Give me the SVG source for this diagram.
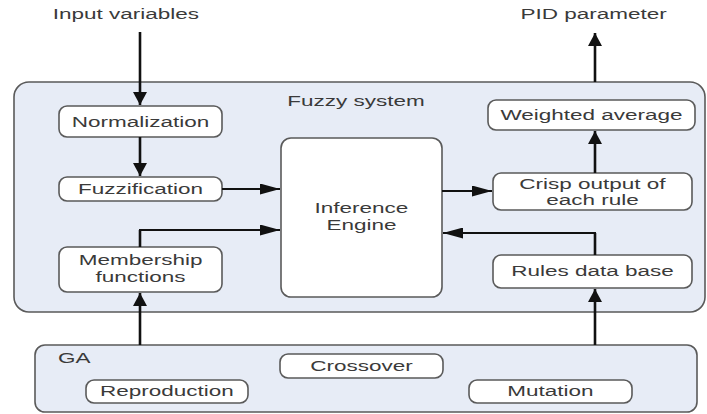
<svg xmlns="http://www.w3.org/2000/svg" width="707" height="414" viewBox="0 0 707 414">
<defs>
<marker id="av" viewBox="0 0 13 14" refX="13" refY="7" markerWidth="13" markerHeight="14" markerUnits="userSpaceOnUse" orient="auto">
<path d="M0,0 L13,7 L0,14 Z" fill="#111"/>
</marker>
<marker id="ahz" viewBox="0 0 20 11" refX="20" refY="5.5" markerWidth="20" markerHeight="11" markerUnits="userSpaceOnUse" orient="auto">
<path d="M0,0 L20,5.5 L0,11 Z" fill="#111"/>
</marker>
</defs>
<style>
.cont{fill:#e7ecf6;stroke:#5a5a5a;stroke-width:1.6}
.box{fill:#fff;stroke:#5a5a5a;stroke-width:1.6}
text{font-family:"Liberation Sans",Arial,sans-serif;font-size:15px;fill:#3a3a3a;text-anchor:middle}
.lbl{text-anchor:start}
.cv{fill:none;stroke:#111;stroke-width:2.6;marker-end:url(#av)}
.ch{fill:none;stroke:#111;stroke-width:1.8;marker-end:url(#ahz)}
.ln{fill:none;stroke:#111;stroke-width:2.6}
</style>
<rect width="707" height="414" fill="#fff"/>
<g id="fuzzy-system">
<rect class="cont" x="14" y="82" width="691" height="230" rx="15"/>
<text transform="scale(1.5 1)" x="237.3" y="106">Fuzzy system</text>
</g>
<g id="ga">
<rect class="cont" x="35" y="345" width="662" height="67" rx="10"/>
<text class="lbl" transform="scale(1.5 1)" x="38.7" y="363">GA</text>
</g>
<g id="input-label"><text transform="scale(1.5 1)" x="84" y="19">Input variables</text></g>
<g id="pid-label"><text transform="scale(1.5 1)" x="395.7" y="19">PID parameter</text></g>
<g id="normalization">
<rect class="box" x="59" y="106" width="163" height="31" rx="8"/>
<text transform="scale(1.5 1)" x="93.7" y="127">Normalization</text>
</g>
<g id="fuzzification">
<rect class="box" x="59" y="177" width="163" height="24" rx="8"/>
<text transform="scale(1.5 1)" x="93.7" y="194">Fuzzification</text>
</g>
<g id="membership">
<rect class="box" x="59" y="247" width="163" height="45" rx="8"/>
<text transform="scale(1.5 1)" x="93.7" y="265">Membership</text>
<text transform="scale(1.5 1)" x="93.7" y="282">functions</text>
</g>
<g id="inference">
<rect class="box" x="281" y="138" width="161" height="159" rx="10"/>
<text transform="scale(1.5 1)" x="241" y="213">Inference</text>
<text transform="scale(1.5 1)" x="241" y="230">Engine</text>
</g>
<g id="weighted">
<rect class="box" x="488" y="100" width="207" height="30" rx="8"/>
<text transform="scale(1.5 1)" x="394.3" y="120">Weighted average</text>
</g>
<g id="crisp">
<rect class="box" x="493" y="173" width="199" height="37" rx="8"/>
<text transform="scale(1.5 1)" x="395" y="189">Crisp output of</text>
<text transform="scale(1.5 1)" x="395" y="205">each rule</text>
</g>
<g id="rules">
<rect class="box" x="493" y="255" width="199" height="33" rx="8"/>
<text transform="scale(1.5 1)" x="395" y="276">Rules data base</text>
</g>
<g id="crossover">
<rect class="box" x="280" y="354" width="163" height="24" rx="8"/>
<text transform="scale(1.5 1)" x="241" y="371">Crossover</text>
</g>
<g id="reproduction">
<rect class="box" x="86" y="380" width="162" height="23" rx="8"/>
<text transform="scale(1.5 1)" x="111.3" y="396">Reproduction</text>
</g>
<g id="mutation">
<rect class="box" x="469" y="380" width="163" height="23" rx="8"/>
<text transform="scale(1.5 1)" x="367" y="396">Mutation</text>
</g>
<g id="connectors">
<path class="cv" d="M140,32 V105"/>
<path class="cv" d="M140,137 V176"/>
<path class="ch" d="M222,189 H280"/>
<path class="ln" d="M140,247 V230"/>
<path class="ch" d="M139,230 H280"/>
<path class="cv" d="M140,345 V293"/>
<path class="ch" d="M442,191 H492"/>
<path class="cv" d="M595,173 V131"/>
<path class="cv" d="M595,82 V33"/>
<path class="ln" d="M595,255 V233"/>
<path class="ch" d="M596,233 H443"/>
<path class="cv" d="M595,345 V289"/>
</g>
</svg>
